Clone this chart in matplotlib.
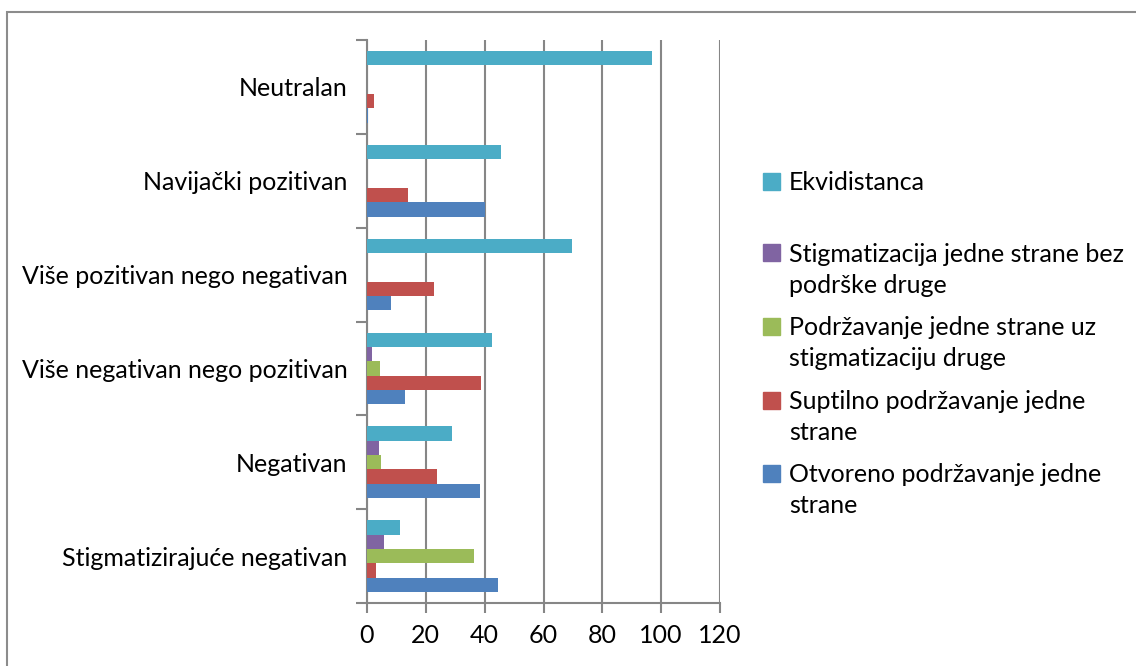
import numpy as np
import matplotlib
matplotlib.use("Agg")
import matplotlib.pyplot as plt
from matplotlib.patches import Rectangle

plt.rcParams['font.family'] = ['Lato', 'DejaVu Sans']
plt.rcParams['font.size'] = 18

categories = ["Stigmatizirajuće negativan", "Negativan", "Više negativan nego pozitivan",
              "Više pozitivan nego negativan", "Navijački pozitivan", "Neutralan"]

# series, bottom bar of each group first
otvoreno = [44.5, 38.4, 12.9, 8.2, 40.2, 0.3]
suptilno = [2.9, 23.8, 38.6, 22.8, 14.0, 2.3]
podrzavanje = [36.3, 4.6, 4.4, 0, 0, 0]
stigmatizacija = [5.8, 4.0, 1.8, 0, 0, 0]
ekvidistanca = [11.2, 29.0, 42.5, 69.6, 45.7, 96.9]

series = [otvoreno, suptilno, podrzavanje, stigmatizacija, ekvidistanca]
labels = [["Otvoreno podržavanje jedne", "strane"],
          ["Suptilno podržavanje jedne", "strane"],
          ["Podržavanje jedne strane uz", "stigmatizaciju druge"],
          ["Stigmatizacija jedne strane bez", "podrške druge"],
          ["Ekvidistanca"]]
colors = ["#4F81BD", "#C0504D", "#9BBB59", "#8064A2", "#4BACC6"]
xticks = [0, 20, 40, 60, 80, 100, 120]

W, H = 1136, 666
fig = plt.figure(figsize=(W / 100, H / 100), dpi=100)
ax = fig.add_axes([367 / W, (H - 603) / H, (720 - 367) / W, (603 - 40) / H])

h = 0.1525
y = np.arange(len(categories))
for j, vals in enumerate(series):
    ax.barh(y + (j - 2) * h, vals, height=h, color=colors[j], zorder=3)

grey = "#868686"
ax.set_xlim(0, 120)
ax.set_ylim(-0.5, len(categories) - 0.5)
ax.set_xticks(xticks)
ax.set_xticklabels([str(t) for t in xticks])
ax.xaxis.grid(True, color=grey, linewidth=1.5, zorder=0)
ax.set_yticks(y)
ax.set_yticklabels(categories)
ax.set_yticks(np.arange(-0.5, len(categories), 1), minor=True)
ax.tick_params(axis="y", which="major", length=0, pad=14)
ax.tick_params(axis="y", which="minor", length=8, width=1.5, color=grey)
ax.tick_params(axis="x", length=7, width=1.5, color=grey, pad=8)
for s in ["top", "right"]:
    ax.spines[s].set_visible(False)
for s in ["left", "bottom"]:
    ax.spines[s].set_color(grey)
    ax.spines[s].set_linewidth(1.5)

# legend, top entry first
ys = [181, 253, 326, 400, 473]
for k, j in enumerate(range(4, -1, -1)):
    yc = ys[k]
    fig.patches.append(Rectangle((763 / W, (H - yc - 8.5) / H), 17 / W, 17 / H,
                                 transform=fig.transFigure, color=colors[j]))
    for i, line in enumerate(labels[j]):
        fig.text(789 / W, (H - yc - 9 - 31 * i) / H, line, ha="left", va="baseline")

# chart frame
fig.patches.append(Rectangle((7 / W, -0.05), 1.1, (H - 12) / H + 0.05,
                             transform=fig.transFigure, fill=False,
                             edgecolor="#8C8C8C", linewidth=1.5))

fig.savefig("out.png", dpi=100)
